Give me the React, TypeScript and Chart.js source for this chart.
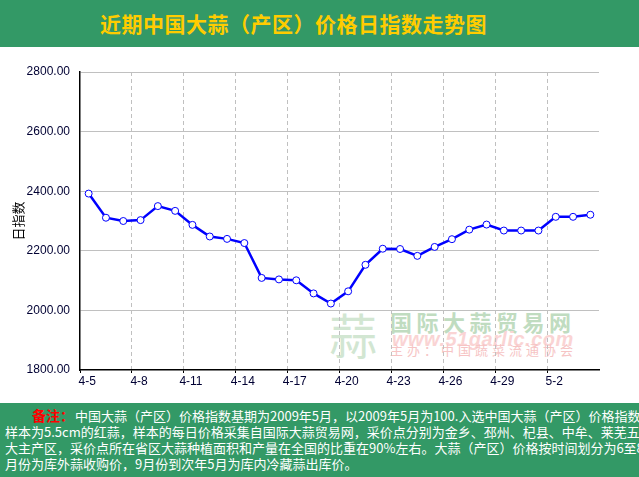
import React, { useEffect, useRef } from "react";
import { Chart, registerables } from "chart.js";

Chart.register(...registerables);

const titleText = "近期中国大蒜（产区）价格日指数走势图";
const yAxisTitle = "日指数";
const dates = [
  "4-5", "4-6", "4-7", "4-8", "4-9", "4-10", "4-11", "4-12", "4-13", "4-14",
  "4-15", "4-16", "4-17", "4-18", "4-19", "4-20", "4-21", "4-22", "4-23", "4-24",
  "4-25", "4-26", "4-27", "4-28", "4-29", "4-30", "5-1", "5-2", "5-3", "5-4",
];
const indexValues = [
  2392, 2311, 2300, 2303, 2350, 2334, 2287, 2248, 2240, 2226,
  2109, 2104, 2101, 2057, 2023, 2064, 2153, 2207, 2206, 2183,
  2213, 2239, 2271, 2288, 2268, 2268, 2268, 2314, 2314, 2321,
];
const yMin = 1800;
const yMax = 2800;
const yStep = 200;
const labelEvery = 3;

const noteLabel = "备注：";
const noteLines = [
  "中国大蒜（产区）价格指数基期为2009年5月，以2009年5月为100.入选中国大蒜（产区）价格指数",
  "样本为5.5cm的红蒜，样本的每日价格采集自国际大蒜贸易网，采价点分别为金乡、邳州、杞县、中牟、莱芜五",
  "大主产区，采价点所在省区大蒜种植面积和产量在全国的比重在90%左右。大蒜（产区）价格按时间划分为6至8",
  "月份为库外蒜收购价，9月份到次年5月为库内冷藏蒜出库价。",
];
const wmLogo = "蒜";
const wmName = "国际大蒜贸易网";
const wmUrl = "www.51garlic.com";
const wmHost = "主办：中国蔬菜流通协会";

const GREEN = "#339966";
const CJK = '"Noto Sans CJK SC", "Noto Sans", sans-serif';

export default function App() {
  const canvasRef = useRef<HTMLCanvasElement | null>(null);

  useEffect(() => {
    const canvas = canvasRef.current;
    if (!canvas) return;
    const chart = new Chart(canvas, {
      type: "line",
      data: {
        labels: dates,
        datasets: [
          {
            data: indexValues,
            borderColor: "#0000ff",
            borderWidth: 2.5,
            pointRadius: 3.5,
            pointBackgroundColor: "#ffffff",
            pointBorderColor: "#0000ff",
            pointBorderWidth: 1,
            tension: 0,
            fill: false,
          },
        ],
      },
      options: {
        animation: false,
        responsive: false,
        maintainAspectRatio: false,
        devicePixelRatio: 1,
        layout: { padding: { top: 25, right: 40, left: 0, bottom: 0 } },
        plugins: {
          legend: { display: false },
          tooltip: { enabled: false },
          title: { display: false },
        },
        scales: {
          x: {
            type: "category",
            offset: true,
            afterFit: (s: any) => {
              s.height = 30;
            },
            grid: {
              offset: true,
              drawOnChartArea: true,
              color: (ctx: any) =>
                ctx.index % labelEvery === 0 && ctx.index !== 0 ? "#c0c0c0" : "rgba(0,0,0,0)",
              tickColor: (ctx: any) =>
                ctx.index % labelEvery === 0 ? "#000000" : "rgba(0,0,0,0)",
              tickLength: 3,
              lineWidth: 1,
            },
            border: { display: true, color: "#000000", width: 1.5, dash: [4, 3] },
            ticks: {
              autoSkip: false,
              maxRotation: 0,
              minRotation: 0,
              padding: 1,
              labelOffset: -1.5,
              color: "#000033",
              font: { family: '"Liberation Sans", Arial, sans-serif', size: 12 },
              callback: (_v: any, i: number) => (i % labelEvery === 0 ? dates[i] : ""),
            },
          },
          y: {
            min: yMin,
            max: yMax,
            afterFit: (s: any) => {
              s.width = 80;
            },
            grid: {
              color: (ctx: any) => (ctx.index === 0 ? "rgba(0,0,0,0)" : "#c0c0c0"),
              drawTicks: false,
              lineWidth: 1,
            },
            border: { display: true, color: "#000000", width: 1.5 },
            ticks: {
              stepSize: yStep,
              padding: 10,
              color: "#000033",
              font: { family: '"Liberation Sans", Arial, sans-serif', size: 12 },
              callback: (v: any) => Number(v).toFixed(2),
            },
            title: {
              display: true,
              text: yAxisTitle,
              color: "#000000",
              font: { family: CJK, size: 13 },
              padding: { top: 10, bottom: 0 },
            },
          },
        },
      },
    });
    return () => chart.destroy();
  }, []);

  return (
    <div
      style={{
        position: "absolute",
        left: 0,
        top: 0,
        width: 639,
        height: 477,
        background: "#ffffff",
        overflow: "hidden",
        fontFamily: CJK,
      }}
    >
      <div
        style={{
          position: "absolute",
          left: 0,
          top: 0,
          width: 639,
          height: 47,
          background: GREEN,
        }}
      >
        <div
          style={{
            position: "absolute",
            left: 100,
            top: 0,
            height: 47,
            lineHeight: "47px",
            fontSize: 21,
            letterSpacing: 0.5,
            fontWeight: "bold",
            color: "#FFCC00",
            whiteSpace: "nowrap",
          }}
        >
          {titleText}
        </div>
      </div>

      {/* watermark under the canvas */}
      <div style={{ position: "absolute", left: 0, top: 0, width: 639, height: 477, pointerEvents: "none" }}>
        <div
          style={{
            position: "absolute",
            left: 329,
            top: 307,
            fontSize: 48,
            lineHeight: "52px",
            color: "#d2e6d2",
          }}
        >
          {wmLogo}
        </div>
        <div
          style={{
            position: "absolute",
            left: 390,
            top: 308,
            fontSize: 22,
            lineHeight: "26px",
            letterSpacing: 4.5,
            color: "#c0dcc0",
            fontWeight: "bold",
            whiteSpace: "nowrap",
          }}
        >
          {wmName}
        </div>
        <div
          style={{
            position: "absolute",
            left: 392,
            top: 328,
            fontSize: 20,
            lineHeight: "22px",
            fontStyle: "italic",
            fontWeight: "bold",
            letterSpacing: 0.5,
            fontFamily: '"Liberation Sans", Arial, sans-serif',
            color: "#fad4d4",
            whiteSpace: "nowrap",
          }}
        >
          {wmUrl}
        </div>
        <div
          style={{
            position: "absolute",
            left: 390,
            top: 342,
            fontSize: 13,
            lineHeight: "16px",
            letterSpacing: 4,
            color: "#f6c4c4",
            whiteSpace: "nowrap",
          }}
        >
          {wmHost}
        </div>
      </div>

      <canvas
        ref={canvasRef}
        width={639}
        height={353}
        style={{ position: "absolute", left: 0, top: 47, width: 639, height: 353 }}
      />

      <div
        style={{
          position: "absolute",
          left: 0,
          top: 403,
          width: 639,
          height: 74,
          background: GREEN,
          overflow: "hidden",
          color: "#ffffff",
          fontSize: 13,
          lineHeight: "16px",
          whiteSpace: "nowrap",
        }}
      >
        <div style={{ position: "absolute", left: 32, top: 4 }}>
          <span style={{ color: "#ff0000", fontWeight: "bold", fontSize: 14 }}>{noteLabel}</span>
          <span style={{ marginLeft: 1 }}>{noteLines[0]}</span>
        </div>
        <div style={{ position: "absolute", left: 5, top: 21 }}>{noteLines[1]}</div>
        <div style={{ position: "absolute", left: 5, top: 37 }}>{noteLines[2]}</div>
        <div style={{ position: "absolute", left: 5, top: 53 }}>{noteLines[3]}</div>
      </div>
    </div>
  );
}
